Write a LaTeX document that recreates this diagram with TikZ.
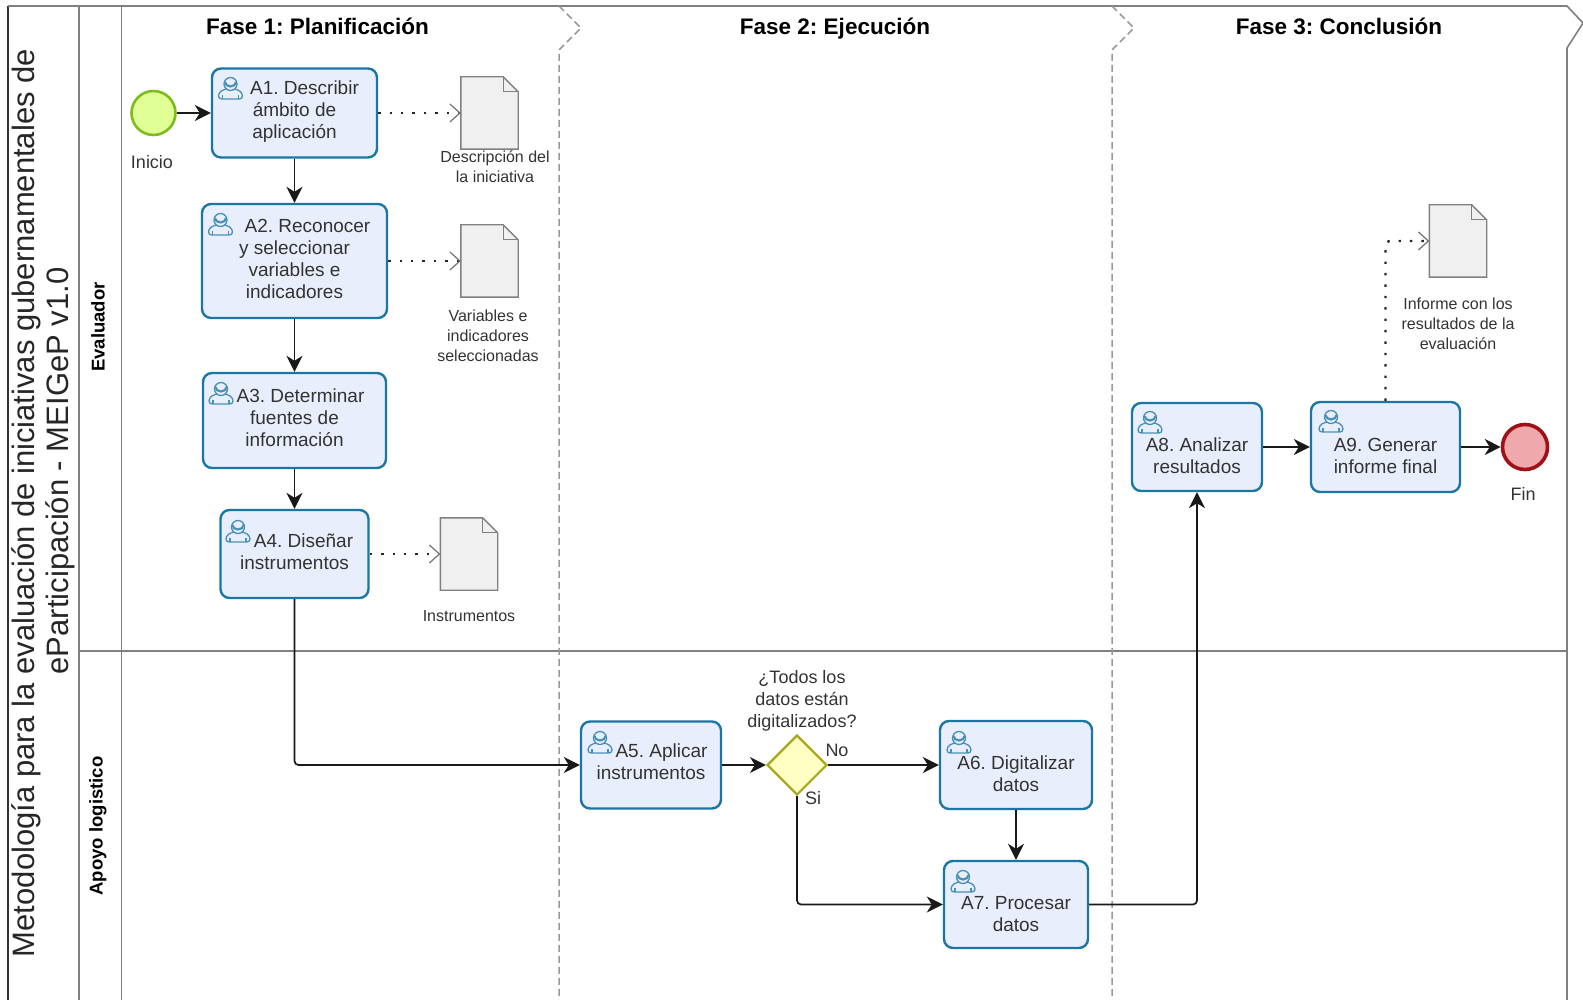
\documentclass[tikz,border=0pt]{standalone}
\usepackage{fontspec}
\setmainfont{Liberation Sans}
\usetikzlibrary{calc,shapes.geometric,positioning}
\usetikzlibrary{arrows.meta}
\tikzset{>={Stealth[width=16pt,length=16pt,inset=5pt]}}
\definecolor{tareaborde}{HTML}{1A76A3}
\definecolor{tareafondo}{HTML}{E9EEFC}
\definecolor{carril}{HTML}{808080}
\newcommand{\alza}[1]{\rule[-#1pt]{0pt}{#1pt}}
\tikzset{
  pics/usuario/.style={code={
    \draw[tareaborde!80, line width=1.3pt, rounded corners=3pt] (-12,11) -- (-12,5) -- (-6,1) -- (6,1) -- (12,5) -- (12,11) -- cycle;
    \draw[tareaborde!80, line width=1.1pt] (-8,11) -- (-8,7) (8,11) -- (8,7);
    \draw[tareaborde!80, line width=1.3pt, fill=tareafondo] (0,-4) circle (6.5);
    \draw[tareaborde!80, line width=2.2pt] (-5.5,-6) arc (180:0:5.5 and 4.5);
  }}
}

\begin{document}
\frenchspacing
\begin{tikzpicture}[x=1pt,y=-1pt]
    \tikzstyle{tarea} = [draw=tareaborde, fill=tareafondo, rectangle, rounded corners=9pt, line width=2.4pt, inner sep=0pt, align=center, font=\fontsize{19}{22}\selectfont, text=black!80]
    \tikzstyle{doc} = [rectangle, inner sep=0pt]
    \tikzstyle{nnode} = [inner sep=0pt, align=center, font=\fontsize{16}{20}\selectfont, text=black!80]
    \tikzstyle{fase} = [inner sep=0pt, text depth=0pt, font=\fontsize{22.5}{26}\selectfont\bfseries]
    \tikzstyle{lane} = [inner sep=0pt, rotate=90, font=\fontsize{18.5}{20}\selectfont\bfseries]
    \tikzstyle{titulo} = [inner sep=0pt, rotate=90, font=\fontsize{31}{34}\selectfont, text=black!85]
    \tikzstyle{flujo} = [->, line width=1.7pt, rounded corners=4pt, black!90]
    \tikzstyle{asoc} = [-{Straight Barb[width=18pt,length=10pt,line width=1.2pt,color=black!55]}, line width=2.4pt, black!85, dash pattern=on 2.4pt off 9pt]
    \useasboundingbox (0,0) rectangle (1583,1000);

    % carriles
    \draw[line width=1.5pt, black!80] (8,1000) -- (8,6);
    \draw[line width=1.6pt, carril] (8,6) -- (1567,6) -- (1583,23) -- (1567,48) -- (1567,1000);
    \draw[line width=1.6pt, carril] (79,6) -- (79,1000);
    \draw[line width=1.6pt, carril] (121.5,6) -- (121.5,1000);
    \draw[line width=1.6pt, carril] (79,651) -- (1567,651);
    \draw[line width=1.5pt, black!40, dash pattern=on 7pt off 4pt] (559,6) -- (581,28) -- (559,50) -- (559,1000);
    \draw[line width=1.5pt, black!40, dash pattern=on 7pt off 4pt] (1112,6) -- (1134,28) -- (1112,50) -- (1112,1000);

    \node[fase] (f1) at (317.5,26) {Fase 1: Planificación};
    \node[fase] (f2) at (835,26) {Fase 2: Ejecución};
    \node[fase] (f3) at (1339,26) {Fase 3: Conclusión};

    \node[titulo] (t1) at (26.5,503) {Metodología para la evaluación de iniciativas gubernamentales de};
    \node[titulo] (t2) at (60,471) {eParticipación - MEIGeP v1.0};
    \node[lane] (l1) at (98,327) {Evaluador};
    \node[lane] (l2) at (98,826) {Apoyo logistico};

    % eventos
    \node[circle, draw={rgb,255:red,125;green,187;blue,32}, fill={rgb,255:red,224;green,255;blue,148}, line width=2.6pt, minimum size=44pt, inner sep=0pt] (ini) at (153.5,113) {};
    \node[circle, draw={rgb,255:red,160;green,16;blue,24}, fill={rgb,255:red,239;green,168;blue,172}, line width=3.6pt, minimum size=45pt, inner sep=0pt] (fin) at (1525,447) {};
    \node[nnode, font=\fontsize{18}{20}\selectfont] (linicio) at (152,162) {Inicio};
    \node[nnode, font=\fontsize{18}{20}\selectfont] (lfin) at (1523,494) {Fin};

    % tareas
    \node[tarea, minimum width=165pt, minimum height=89pt] (a1) at (294.5,113) {\hspace*{20pt}A1. Describir\\ ámbito de\\ aplicación\alza{6}};
    \node[tarea, minimum width=185pt, minimum height=114pt] (a2) at (294.5,261) {\hspace*{26pt}A2. Reconocer\\ y seleccionar\\ variables e\\ indicadores\alza{4}};
    \node[tarea, minimum width=183pt, minimum height=95pt] (a3) at (294.5,420.5) {\hspace*{12pt}A3. Determinar\\ fuentes de\\ información\alza{6}};
    \node[tarea, minimum width=148pt, minimum height=88pt] (a4) at (294.5,554) {\hspace*{18pt}A4. Diseñar\\ instrumentos\alza{4}};
    \node[tarea, minimum width=140pt, minimum height=87pt] (a5) at (651,765) {\hspace*{21pt}A5. Aplicar\\ instrumentos\alza{6}};
    \node[tarea, minimum width=152pt, minimum height=88pt] (a6) at (1016,765) {\rule{0pt}{14pt}\\[-4pt] A6. Digitalizar\\ datos};
    \node[tarea, minimum width=144pt, minimum height=87pt] (a7) at (1016,904.5) {\rule{0pt}{14pt}\\[-4pt] A7. Procesar\\ datos};
    \node[tarea, minimum width=130pt, minimum height=88pt] (a8) at (1197,447) {\rule{0pt}{14pt}\\[-4pt] A8. Analizar\\ resultados};
    \node[tarea, minimum width=149pt, minimum height=90pt] (a9) at (1385.5,447) {\rule{0pt}{14pt}\\[-4pt] A9. Generar\\ informe final};

    \pic at (230.5,88) {usuario};
    \pic at (220.5,224) {usuario};
    \pic at (221,393) {usuario};
    \pic at (238,531) {usuario};
    \pic at (600,742) {usuario};
    \pic at (959,742) {usuario};
    \pic at (963,881) {usuario};
    \pic at (1150,422) {usuario};
    \pic at (1331,421) {usuario};

    % compuerta
    \node[diamond, aspect=1, draw={rgb,255:red,168;green,168;blue,32}, fill={rgb,255:red,255;green,255;blue,196}, line width=2.2pt, minimum size=60pt, inner sep=0pt] (gw) at (797,765) {};
    \node[nnode, font=\fontsize{18}{22}\selectfont] (lgw) at (802,701) {¿Todos los\\ datos están\\ digitalizados?};
    \node[nnode, font=\fontsize{18}{20}\selectfont] (lno) at (837,750) {No};
    \node[nnode, font=\fontsize{18}{20}\selectfont] (lsi) at (813,798) {Si};

    % documentos
    \node[doc, minimum width=57pt, minimum height=72pt] (d1) at (489.5,113) {};
    \node[doc, minimum width=57pt, minimum height=72pt] (d2) at (489.5,261) {};
    \node[doc, minimum width=57pt, minimum height=72pt] (d3) at (469,554) {};
    \node[doc, minimum width=57pt, minimum height=72pt] (d4) at (1458,241) {};
    \foreach \d in {d1,d2,d3,d4} {
      \draw[line width=1.4pt, black!50, fill=black!6] (\d.north west) -- ($(\d.north east)+(-15,0)$) -- ($(\d.north east)+(0,15)$) -- (\d.south east) -- (\d.south west) -- cycle;
      \draw[line width=1.2pt, black!50] ($(\d.north east)+(-15,0)$) -- ($(\d.north east)+(-15,15)$) -- ($(\d.north east)+(0,15)$);
    }
    \node[nnode] (ld1) at (495,166.5) {Descripción del\\ la iniciativa};
    \node[nnode] (ld2) at (488,336) {Variables e\\ indicadores\\ seleccionadas};
    \node[nnode] (ld3) at (469,616) {Instrumentos};
    \node[nnode] (ld4) at (1458,323.5) {Informe con los\\ resultados de la\\ evaluación};

    \draw[flujo] (ini) -- (a1);
    \draw[flujo] (a1) -- (a2);
    \draw[flujo] (a2) -- (a3);
    \draw[flujo] (a3) -- (a4);
    \draw[flujo] (a4.south) |- (a5.west);
    \draw[flujo] (a5) -- (gw);
    \draw[flujo] (gw) -- (a6);
    \draw[flujo] (a6) -- (a7);
    \draw[flujo] (gw.south) |- (a7.west);
    \draw[flujo] (a7.east) -| (a8.south);
    \draw[flujo] (a8) -- (a9);
    \draw[flujo] (a9) -- (fin);

    \draw[asoc] (a1) -- (d1);
    \draw[asoc] (a2) -- (d2);
    \draw[asoc] (a4) -- (d3);
    \draw[asoc, rounded corners=4pt] (a9.north) |- (d4.west);
\end{tikzpicture}
\end{document}
